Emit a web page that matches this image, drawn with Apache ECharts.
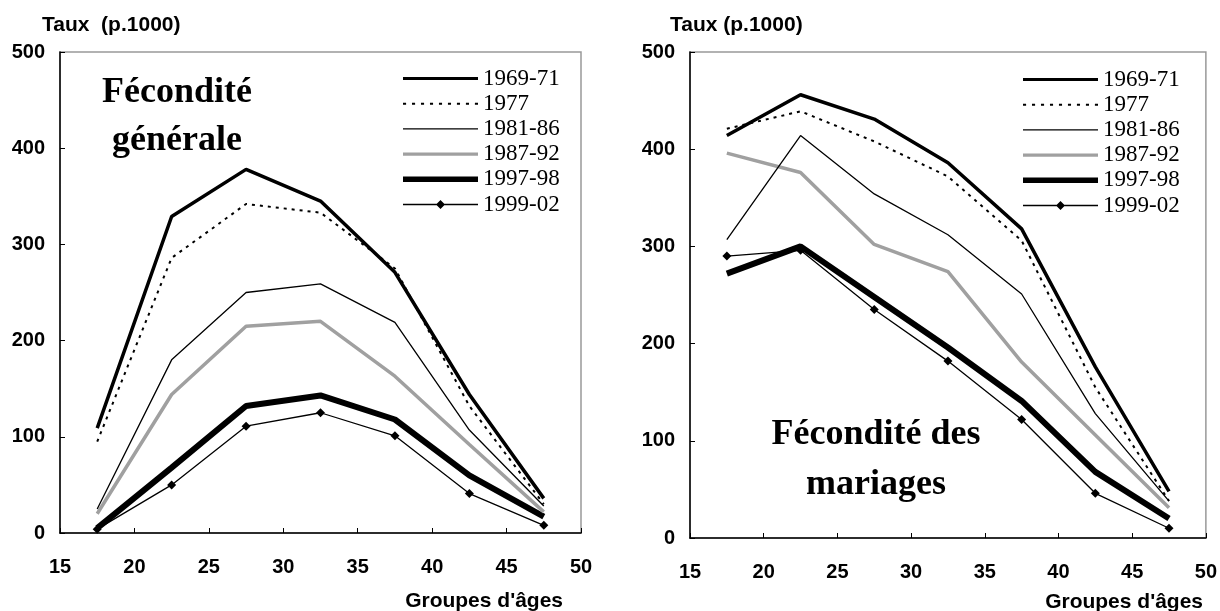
<!DOCTYPE html>
<html lang="fr">
<head>
    <meta charset="UTF-8">
    <title>Fécondité générale et des mariages</title>
    <script src="https://cdn.jsdelivr.net/npm/echarts@6/dist/echarts.min.js"></script>
    <style>
        html, body { margin: 0; padding: 0; background: #fff; }
        #main { width: 1220px; height: 611px; }
    </style>
</head>
<body>
<div id="main"></div>
<script>
    // groupes d'âges (centres des classes)
    var ages = [17.5, 22.5, 27.5, 32.5, 37.5, 42.5, 47.5];
    var periodes = ['1969-71', '1977', '1981-86', '1987-92', '1997-98', '1999-02'];

    // Fécondité générale (p.1000)
    var gen6971 = [109, 329, 378, 345, 271, 144, 36];
    var gen1977 = [95, 286, 342, 333, 275, 132, 30];
    var gen8186 = [25, 180, 250, 259, 219, 107, 28];
    var gen8792 = [20, 144, 215, 220, 163, 92, 22];
    var gen9798 = [5, 68, 132, 143, 118, 60, 17];
    var gen9902 = [4, 50, 111, 125, 101, 41, 8];

    // Fécondité des mariages (p.1000)
    var mar6971 = [414, 456, 431, 386, 318, 176, 48];
    var mar1977 = [421, 439, 408, 372, 306, 155, 38];
    var mar8186 = [307, 414, 354, 312, 251, 128, 38];
    var mar8792 = [396, 376, 302, 274, 181, 106, 31];
    var mar9798 = [272, 300, 248, 196, 141, 68, 20];
    var mar9902 = [290, 296, 235, 182, 122, 46, 10];

    var xTicks = [15, 20, 25, 30, 35, 40, 45, 50];
    var yTicks = [0, 100, 200, 300, 400, 500];

    // style de chaque période
    var styles = [
        { color: '#000', width: 3.5, type: 'solid', symbol: 'none' },
        { color: '#000', width: 2, type: [3, 5], symbol: 'none' },
        { color: '#000', width: 1.3, type: 'solid', symbol: 'none' },
        { color: '#a0a0a0', width: 3.5, type: 'solid', symbol: 'none' },
        { color: '#000', width: 6, type: 'solid', symbol: 'none' },
        { color: '#000', width: 1.3, type: 'solid', symbol: 'diamond' }
    ];

    // icônes de légende : un trait de la bonne épaisseur
    function barIcon(h) {
        return 'path://M0,0H75V' + h + 'H0Z';
    }
    function dotIcon() {
        var p = 'path://';
        for (var x = 0; x < 75; x += 8.7) {
            p += 'M' + x + ',0H' + (x + 3) + 'V2H' + x + 'Z';
        }
        return p;
    }
    var icons = [
        barIcon(3.2),
        dotIcon(),
        barIcon(1.3),
        barIcon(3.2),
        barIcon(5.5),
        'path://M0,3.85H75V5.15H0ZM33,4.5L37.5,0L42,4.5L37.5,9Z'
    ];

    function pairs(vals) {
        return ages.map(function (a, i) { return [a, vals[i]]; });
    }

    function makeSeries(list, idx) {
        return list.map(function (vals, i) {
            var s = styles[i];
            return {
                name: periodes[i],
                type: 'line',
                xAxisIndex: idx,
                yAxisIndex: idx,
                data: pairs(vals),
                symbol: s.symbol,
                symbolSize: 9,
                showSymbol: s.symbol !== 'none',
                itemStyle: { color: s.color },
                lineStyle: { color: s.color, width: s.width, type: s.type },
                z: 10 - i,
                silent: true,
                animation: false
            };
        });
    }

    function makeXAxis(idx) {
        return {
            type: 'value', gridIndex: idx,
            min: xTicks[0], max: xTicks[xTicks.length - 1], interval: 5,
            axisLine: { lineStyle: { color: '#000', width: 1.5 } },
            axisTick: { inside: true, length: 5, lineStyle: { color: '#000' } },
            axisLabel: { margin: 24, color: '#000', fontWeight: 'bold', fontSize: 20, fontFamily: 'Liberation Sans, Arial' },
            splitLine: { show: false }
        };
    }

    function makeYAxis(idx) {
        return {
            type: 'value', gridIndex: idx,
            min: yTicks[0], max: yTicks[yTicks.length - 1], interval: 100,
            axisLine: { show: true, lineStyle: { color: '#000', width: 1.5 } },
            axisTick: { show: true, inside: true, length: 5, lineStyle: { color: '#000' } },
            axisLabel: { margin: 15, color: '#000', fontWeight: 'bold', fontSize: 20, fontFamily: 'Liberation Sans, Arial' },
            splitLine: { show: false }
        };
    }

    function makeLegend(left, top) {
        return {
            data: periodes.map(function (n, i) {
                return { name: n, icon: icons[i], itemStyle: { color: styles[i].color, borderWidth: 0 } };
            }),
            left: left, top: top,
            padding: 0,
            orient: 'vertical',
            itemWidth: 75, itemHeight: 18, itemGap: 2.2,
            selectedMode: false,
            textStyle: { color: '#000', fontSize: 23, fontFamily: 'Liberation Serif, Times New Roman' }
        };
    }

    var axisFont = 'bold 21px Liberation Sans, Arial';
    var titleFont = 'bold 36px Liberation Serif, Times New Roman';

    var myChart = echarts.init(document.getElementById('main'));
    var option = {
        backgroundColor: '#fff',
        animation: false,
        grid: [
            { left: 60, top: 52, width: 521, height: 481, show: true, borderColor: '#999', borderWidth: 1.5 },
            { left: 690, top: 52, width: 517, height: 486, show: true, borderColor: '#999', borderWidth: 1.5 }
        ],
        xAxis: [makeXAxis(0), makeXAxis(1)],
        yAxis: [makeYAxis(0), makeYAxis(1)],
        legend: [makeLegend(403, 67), makeLegend(1023, 68)],
        graphic: [
            { type: 'text', style: { text: 'Taux  (p.1000)', x: 42, y: 25, font: axisFont, fill: '#000', textVerticalAlign: 'middle' } },
            { type: 'text', style: { text: 'Taux (p.1000)', x: 670, y: 25, font: axisFont, fill: '#000', textVerticalAlign: 'middle' } },
            { type: 'text', style: { text: "Groupes d'âges", x: 563, y: 601, font: axisFont, fill: '#000', textAlign: 'right', textVerticalAlign: 'middle' } },
            { type: 'text', style: { text: "Groupes d'âges", x: 1203, y: 602, font: axisFont, fill: '#000', textAlign: 'right', textVerticalAlign: 'middle' } },
            { type: 'text', style: { text: 'Fécondité', x: 177, y: 93, font: titleFont, fill: '#000', textAlign: 'center', textVerticalAlign: 'middle' } },
            { type: 'text', style: { text: 'générale', x: 177, y: 141, font: titleFont, fill: '#000', textAlign: 'center', textVerticalAlign: 'middle' } },
            { type: 'text', style: { text: 'Fécondité des', x: 876, y: 435, font: titleFont, fill: '#000', textAlign: 'center', textVerticalAlign: 'middle' } },
            { type: 'text', style: { text: 'mariages', x: 876, y: 485, font: titleFont, fill: '#000', textAlign: 'center', textVerticalAlign: 'middle' } }
        ],
        series: makeSeries([gen6971, gen1977, gen8186, gen8792, gen9798, gen9902], 0)
            .concat(makeSeries([mar6971, mar1977, mar8186, mar8792, mar9798, mar9902], 1))
    };
    myChart.setOption(option);
</script>
</body>
</html>
